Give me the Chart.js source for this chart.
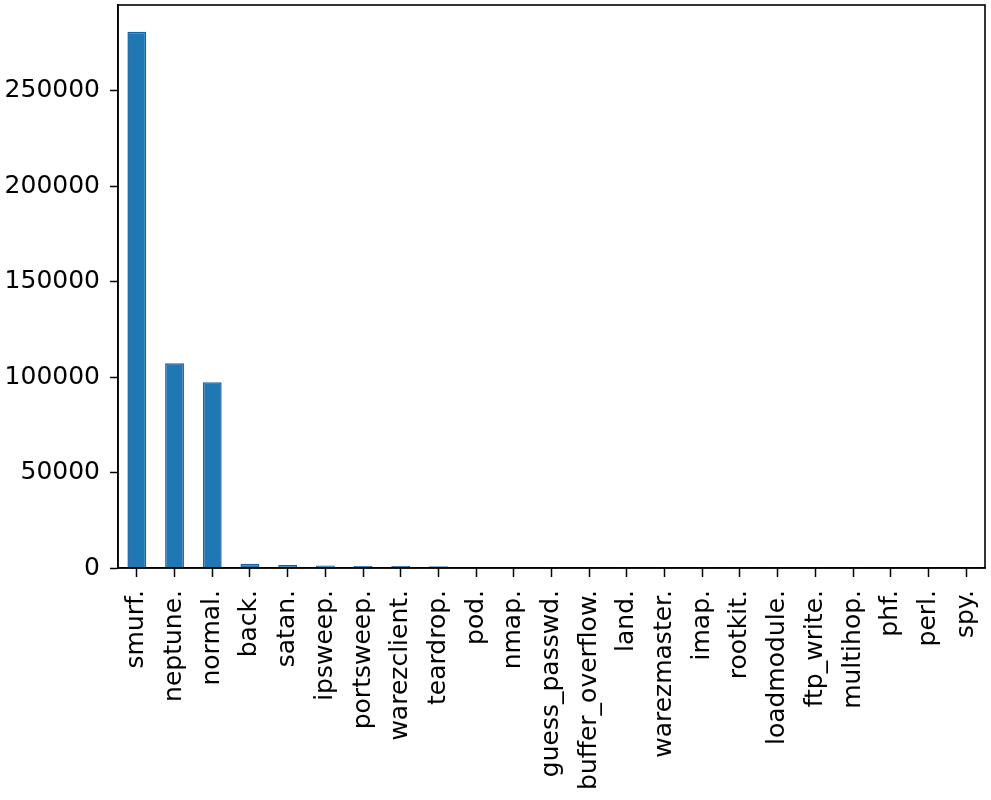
<!DOCTYPE html>
<html>
<head>
<meta charset="utf-8">
<script src="https://cdn.jsdelivr.net/npm/chart.js@4/dist/chart.umd.min.js"></script>
<style>
	html, body { margin: 0; padding: 0; background: #fff; }
	#wrap { width: 991px; height: 800px; }
</style>
</head>
<body>
<div id="wrap"><canvas id="chart" width="991" height="800"></canvas></div>
<script>
let labels = ['smurf.', 'neptune.', 'normal.', 'back.', 'satan.', 'ipsweep.', 'portsweep.', 'warezclient.',
	'teardrop.', 'pod.', 'nmap.', 'guess_passwd.', 'buffer_overflow.', 'land.', 'warezmaster.', 'imap.',
	'rootkit.', 'loadmodule.', 'ftp_write.', 'multihop.', 'phf.', 'perl.', 'spy.']
let counts = [280790, 107201, 97278, 2203, 1589, 1247, 1040, 1020, 979, 264, 231, 53, 30, 21, 20, 12, 10, 9, 8, 7, 4, 3, 2]
let yTicks = [0, 50000, 100000, 150000, 200000, 250000]
let yMax = 294830

let font = { family: 'DejaVu Sans', size: 25 }

// draws the top and right spines too, like matplotlib
let frame = {
	id: 'frame',
	afterDraw(chart) {
		let a = chart.chartArea
		let ctx = chart.ctx
		ctx.save()
		ctx.strokeStyle = '#000'
		ctx.lineWidth = 1.6
		ctx.strokeRect(a.left, a.top, a.right - a.left, a.bottom - a.top)
		ctx.restore()
	},
}

let chart = new Chart(document.getElementById('chart'), {
	type: 'bar',
	data: {
		labels: labels,
		datasets: [
			{
				data: counts,
				backgroundColor: '#1f77b4',
				borderColor: '#1a62a0',
				borderWidth: 1.5,
				borderSkipped: 'start',
				categoryPercentage: 1,
				barPercentage: 0.5,
			},
		],
	},
	options: {
		responsive: false,
		animation: false,
		layout: { padding: { top: 5, right: 6, left: 0, bottom: 0 } },
		plugins: {
			legend: { display: false },
			tooltip: { enabled: false },
		},
		scales: {
			x: {
				afterFit: function (scale) {
					scale.height = 232
					scale.paddingLeft = 0
					scale.paddingRight = 0
				},
				grid: { drawOnChartArea: false, offset: false, tickLength: 9, color: '#000', tickWidth: 1.5 },
				border: { color: '#000', width: 1.6 },
				ticks: {
					color: '#000',
					font: font,
					minRotation: 90,
					maxRotation: 90,
					autoSkip: false,
					padding: 13,
				},
			},
			y: {
				min: 0,
				max: yMax,
				afterFit: function (scale) {
					scale.width = 118
					scale.paddingTop = 0
					scale.paddingBottom = 0
				},
				afterBuildTicks: function (scale) {
					scale.ticks = yTicks.map(function (v) {
						return { value: v }
					})
				},
				grid: { drawOnChartArea: false, tickLength: 8, color: '#000', tickWidth: 1.5 },
				border: { color: '#000', width: 1.6 },
				ticks: {
					color: '#000',
					font: font,
					padding: 10,
					callback: function (v) {
						return String(v)
					},
				},
			},
		},
	},
	plugins: [frame],
})
</script>
</body>
</html>
